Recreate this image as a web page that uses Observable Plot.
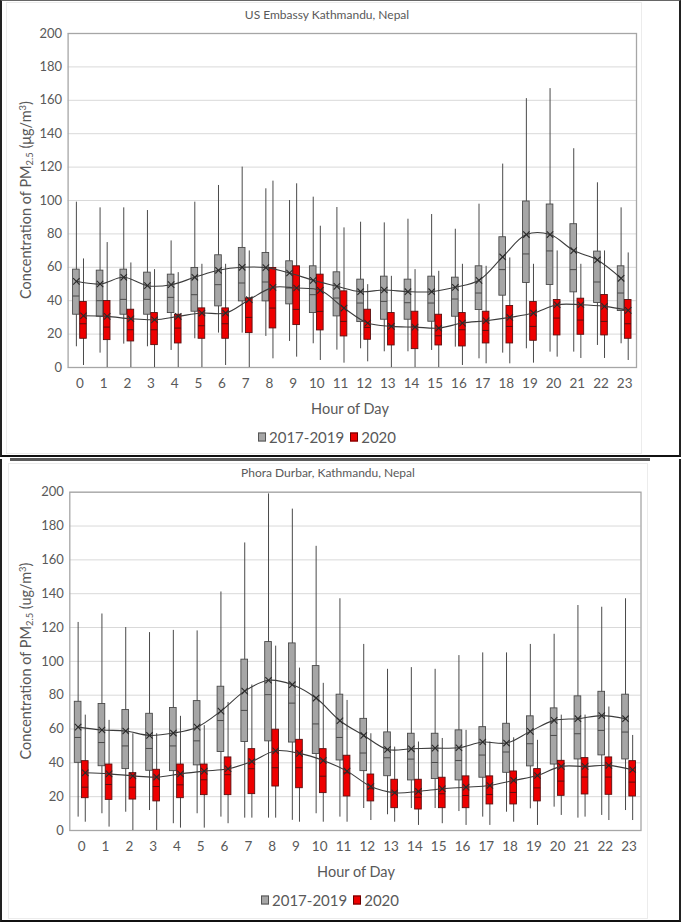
<!DOCTYPE html>
<html><head><meta charset="utf-8">
<script src="https://cdn.jsdelivr.net/npm/d3@7"></script>
<script src="https://cdn.jsdelivr.net/npm/@observablehq/plot@0.6"></script>
<style>
body{margin:0;background:#fff;font-family:Lato,"Open Sans",sans-serif;}
#page{position:relative;width:681px;height:922px;overflow:hidden;background:#fff;}
.abs{position:absolute;}
.c{position:absolute;transform:translate(-50%,-50%);white-space:nowrap;line-height:1;color:#595959;}
.ylab{position:absolute;transform:translate(-50%,-50%) rotate(-90deg);white-space:nowrap;line-height:1;color:#595959;font-size:14.5px;}
.ylab sub{font-size:0.65em;vertical-align:-0.25em;line-height:0}
.ylab sup{font-size:0.65em;vertical-align:0.55em;line-height:0}
.leg{display:flex;align-items:center;font-size:15px;}
.sw{display:inline-block;width:6px;height:7px;border:1px solid #555;margin-right:3px;}
</style></head>
<body><div id="page"></div>
<script>
const hours = [0,1,2,3,4,5,6,7,8,9,10,11,12,13,14,15,16,17,18,19,20,21,22,23];
const yTicks = [0,20,40,60,80,100,120,140,160,180,200];
const seriesNames = ["2017-2019","2020"];

// US Embassy Kathmandu — 2017-2019
const usGrayLow  = [12.4,8.6,14,12.4,10.2,17.2,20.6,20.6,18.6,15.6,14.2,10.4,11.2,9.4,9.4,10.2,12.2,5.2,8.6,11.2,9.2,9.2,13.2,14.2];
const usGrayQ1   = [31.6,30.4,31.6,31.6,32.6,33.4,36.6,39.6,39.6,37.8,32.6,30.6,27.2,28.6,28.6,27.4,30.4,34.4,43,50.6,49.4,45,38.6,33.8];
const usGrayMed  = [42.8,40,40.8,40.8,42,43.6,49.6,50.6,51.2,47.6,43.6,41.6,38.6,39.6,38.8,38.6,41,44.6,58.6,68,69.8,58.6,51.2,44.6];
const usGrayQ3   = [58.6,58,58.6,56.8,55.6,59.6,67.2,71.6,68.6,63.6,60.6,57,52.6,54.4,52.6,54.4,53.8,60.6,78,99.4,97.6,85.8,69.4,60.6];
const usGrayHigh = [99,95.6,95.6,94,75.8,99,109,120,107,100,102,95.8,87,86.6,88.8,91.6,82.8,97.8,121.8,161,167,131,110.6,95.6];
const usGrayMean = [51.6,50,54,49,49.6,54,58.2,60,59.8,56.6,52.2,48.6,45.4,46.4,45.4,45.4,48,52.2,66.2,79.6,79.6,70,64.4,53.4];
// US Embassy Kathmandu — 2020
const usRedLow  = [1.2,0,0,0,0,0,1.2,0,5.2,6.2,4.2,2.6,3.4,0,0,0,1.2,2.2,2.2,2.6,6.2,5.4,5.4,4.2];
const usRedQ1   = [17.2,16.4,15.6,13.4,14.4,17.2,17.2,20.6,23.4,25.4,22.2,18.6,16.6,13.2,11,13.2,12.6,14.4,14.4,16,19.2,19.6,19.2,17.2];
const usRedMed  = [26.2,24.2,22.6,22.6,23.6,25,26.2,30,35.6,34.8,33.6,27.6,24,25,24.6,19,22.6,22.2,24.6,24.6,29.6,28.4,27.6,26.2];
const usRedQ3   = [39.2,39.8,34.6,32.6,31.6,35.4,35.4,41.4,59.6,60.6,55.6,45.6,34.6,32.6,33.4,31.6,32.6,33.4,36.8,39.2,40.4,41.2,43.4,40.4];
const usRedHigh = [65,74.8,62.6,58.6,56.8,61.8,61.8,69.8,111.6,110,84.6,83.6,49.6,54.6,58.6,57.6,61.8,60.6,65.6,61.8,69.8,61.8,69.8,68.6];
const usRedMean = [31,30.6,29.2,28.6,30.6,32.6,32.6,40.6,48,47.6,46.2,35.6,26.6,24.6,24.2,23.6,26.6,28,30,32.6,37.6,37.6,36.6,34.2];

// Phora Durbar — 2017-2019
const pdGrayLow  = [7.9,9.9,10.8,11.8,4,9.9,7.9,7.3,7.3,6,9.9,7.9,13,9.3,13,13,11.2,7.9,10.8,12.8,13.8,7.3,8.9,11.8];
const pdGrayQ1   = [40,38,36.3,35.3,35.1,38.5,46.4,52.3,52.7,52,45.2,41.4,35.1,32.1,29.6,30.4,29.6,31.2,34.1,37.9,39,42,44.4,42];
const pdGrayMed  = [55,52,50,48.5,50,53,65,71,80.3,75.3,63,55,45.8,43,42.2,40.2,41.4,44.6,46.4,51.3,56.2,57.2,59.2,58.2];
const pdGrayQ3   = [76.1,74.8,71.2,69,72.4,76.5,85,101,111.4,110.6,97.2,80.3,66,58,57.2,57.2,59.2,61.1,63.1,67.5,72.2,79.3,82,80.3];
const pdGrayHigh = [123,128,120,117,118.3,118,141,170,199,190,168,137,110,95.3,96.3,95.3,103.4,105,105,110,116,133,132,137];
const pdGrayMean = [61.1,59.4,58.8,56.2,57.6,61.1,70.6,82.4,88.8,86.2,78.3,64.9,56.2,47.9,48.3,48.7,48.9,52.3,51.7,58.6,65.1,66.1,67.9,66.1];
// Phora Durbar — 2020
const pdRedLow  = [4.9,2,0,0,1.4,1.4,4,7.3,7.3,4.9,4.9,4.9,5.9,4.9,3,4,3,3,4.9,3,8.9,7.9,5.9,5.9];
const pdRedQ1   = [19.1,18.1,18.3,17.2,19.1,20.9,20.9,21.5,26,25,22.1,20.1,17.2,13.2,12.4,13.2,13.2,15.4,15.4,17.2,20.5,21.3,21.1,20.1];
const pdRedMed  = [25.6,27.2,25.6,26,27,30,33,36.5,37.1,37.1,32.1,34.1,24.7,22.7,19.7,21.7,20.7,21.3,22.5,25.2,29.2,31.6,31.6,28.6];
const pdRedQ3   = [41,39,33.9,35.9,39,39,43.2,48.1,59.6,53.6,48.1,44.2,33.1,30,30,31.2,32,32,34.9,36.3,41.2,42.8,43.2,41];
const pdRedHigh = [68.2,65.1,57.2,57.2,67.5,62,75.7,86,109,96,87,76.9,57.2,49.3,52.3,54.4,59.2,52.3,54.8,53.3,68.2,68.2,73,56.2];
const pdRedMean = [34.1,33.5,32.3,31.6,33.5,35.1,36.5,40.8,47.1,45.6,41.4,35.1,26,22.3,23.1,24.7,25.6,26.6,29.6,32.5,37.9,37.9,38.5,35.9];

function rows(low,q1,med,q3,high,mean){
  return hours.map((h,i)=>({hour:h, low:low[i], q1:q1[i], med:med[i], q3:q3[i], high:high[i], mean:mean[i]}));
}

const BOXW = 0.28;
function boxMarks(data, off, fill, stroke){
  return [
    Plot.ruleX(data,{x:d=>d.hour+off, y1:"low", y2:"high", stroke:"#4a4a4a", strokeWidth:1}),
    Plot.rectY(data,{x1:d=>d.hour+off-BOXW/2, x2:d=>d.hour+off+BOXW/2, y1:"q1", y2:"q3", fill, stroke, strokeWidth:0.9}),
    Plot.ruleY(data,{y:"med", x1:d=>d.hour+off-BOXW/2, x2:d=>d.hour+off+BOXW/2, stroke, strokeWidth:1})
  ];
}
function meanMarks(data, off){
  return [
    Plot.line(data,{x:d=>d.hour+off, y:"mean", curve:"catmull-rom", stroke:"#3c3c3c", strokeWidth:1.1}),
    Plot.dot(data,{x:d=>d.hour+off, y:"mean", symbol:"times", r:3, stroke:"#2a2a2a", strokeWidth:1.1})
  ];
}

function chart(gray, red, m){
  return Plot.plot({
    width:681, height:400,
    marginTop:m.t, marginBottom:m.b, marginLeft:m.l, marginRight:m.r,
    style:{fontFamily:"Lato, sans-serif", fontSize:"13px", color:"#595959", background:"transparent", overflow:"visible"},
    x:{domain:[-0.5,23.5]},
    y:{domain:[0,200]},
    marks:[
      Plot.gridY(yTicks,{stroke:"#d9d9d9", strokeOpacity:1}),
      Plot.frame({stroke:"#a6a6a6", strokeWidth:1.3}),
      Plot.axisX(hours,{tickSize:0, tickPadding:11, fontSize:13.5, label:null, tickFormat:d=>String(d)}),
      Plot.axisY(yTicks,{tickSize:0, tickPadding:6, fontSize:13, label:null}),
      ...boxMarks(gray,-0.15,"#a6a6a6","#4a4a4a"),
      ...boxMarks(red,0.15,"#ee0000","#5a1010"),
      ...meanMarks(gray,-0.15),
      ...meanMarks(red,0.15)
    ]
  });
}

const page = document.getElementById("page");
function add(html, cls, styles){
  const d = document.createElement("div");
  if(cls) d.className = cls;
  d.innerHTML = html;
  Object.assign(d.style, styles||{});
  page.appendChild(d);
  return d;
}

// frames
add("","abs",{left:"0px",top:"0px",width:"677px",height:"454px",borderLeft:"2px solid #222",borderRight:"2px solid #222",borderTop:"1px solid #666",borderBottom:"2px solid #111"});
add("","abs",{left:"6px",top:"2px",width:"634px",height:"450px",border:"1px solid #ececec"});
add("","abs",{left:"10px",top:"458px",width:"640px",height:"3px",background:"#5a5a5a"});
add("","abs",{left:"0px",top:"459px",width:"677px",height:"461px",borderLeft:"2px solid #222",borderRight:"2px solid #222",borderBottom:"2px solid #111"});
add("","abs",{left:"8px",top:"463px",width:"638px",height:"454px",border:"1px solid #ececec"});

// top panel
const s1 = chart(rows(usGrayLow,usGrayQ1,usGrayMed,usGrayQ3,usGrayHigh,usGrayMean),
                 rows(usRedLow,usRedQ1,usRedMed,usRedQ3,usRedHigh,usRedMean),
                 {t:33,b:33,l:67.6,r:45});
const w1 = add("","abs",{left:"0px",top:"0px"}); w1.appendChild(s1);
add("US Embassy Kathmandu, Nepal","c",{left:"327px",top:"15px",fontSize:"12px"});
add("Concentration of PM<sub>2.5</sub> (μg/m<sup>3</sup>)","ylab",{left:"26px",top:"200px"});
add("Hour of Day","c",{left:"350px",top:"409px",fontSize:"14.5px"});
const legendHTML = '<span class="sw" style="background:#a6a6a6"></span><span style="margin-right:6px">'+seriesNames[0]+'</span><span class="sw" style="background:#ee0000;border-color:#600"></span><span>'+seriesNames[1]+'</span>';
add(legendHTML,"c leg",{left:"327px",top:"437px"});

// bottom panel
const s2 = chart(rows(pdGrayLow,pdGrayQ1,pdGrayMed,pdGrayQ3,pdGrayHigh,pdGrayMean),
                 rows(pdRedLow,pdRedQ1,pdRedMed,pdRedQ3,pdRedHigh,pdRedMean),
                 {t:31.7,b:30,l:69.3,r:40.5});
const w2 = add("","abs",{left:"0px",top:"460px"}); w2.appendChild(s2);
add("Phora Durbar, Kathmandu, Nepal","c",{left:"328px",top:"473px",fontSize:"12px"});
add("Concentration of PM<sub>2.5</sub> (ug/m<sup>3</sup>)","ylab",{left:"26px",top:"661px"});
add("Hour of Day","c",{left:"356px",top:"872px",fontSize:"14.5px"});
add(legendHTML,"c leg",{left:"330px",top:"900px"});
</script>
</body></html>
